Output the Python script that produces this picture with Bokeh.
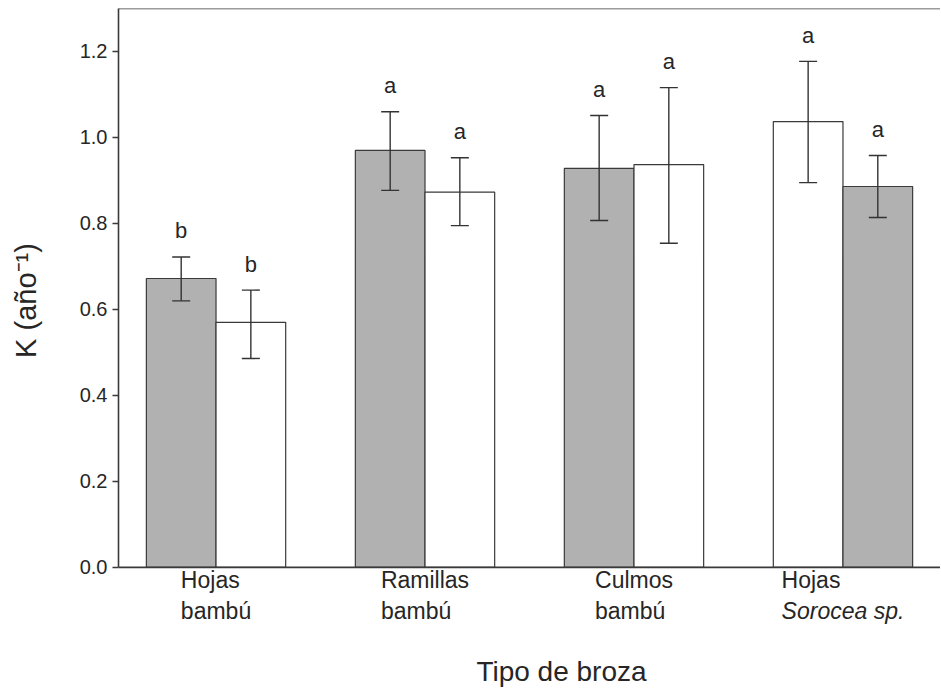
from bokeh.plotting import figure
from bokeh.layouts import row
from bokeh.models import (FactorRange, Range1d, ColumnDataSource, Whisker, TeeHead,
                          Label, NumeralTickFormatter, FixedTicker, Span)
from bokeh.core.properties import value
from bokeh.embed import file_html
from bokeh.resources import INLINE

# ---------------- data ----------------
categories = ["Hojas bambú", "Ramillas bambú", "Culmos bambú", "Hojas Sorocea sp."]
label_line1 = ["Hojas", "Ramillas", "Culmos", "Hojas"]
label_line2 = ["bambú", "bambú", "bambú", "Sorocea sp."]
line2_italic = [False, False, False, True]
bars = ["1", "2"]

k_first = [0.672, 0.970, 0.928, 1.037]
lo_first = [0.620, 0.877, 0.807, 0.895]
hi_first = [0.722, 1.060, 1.051, 1.177]
letter_first = ["b", "a", "a", "a"]
shaded_first = [True, True, True, False]

k_second = [0.570, 0.873, 0.937, 0.886]
lo_second = [0.486, 0.795, 0.754, 0.814]
hi_second = [0.645, 0.953, 1.116, 0.958]
letter_second = ["b", "a", "a", "a"]
shaded_second = [False, False, False, True]

y_ticks = [0.0, 0.2, 0.4, 0.6, 0.8, 1.0, 1.2]
Y_MAX = 1.3
Y_LABEL = "K (año⁻¹)"
X_LABEL = "Tipo de broza"

GRAY = "#b1b1b1"
WHITE = "#ffffff"
FONT = "Liberation Sans"
TXT = "#262626"
LINE = "#3a3a3a"
GP = 1.0  # group padding (in bar widths)
H = 689
LEFT_W = 45

# ---------------- source ----------------
xs, tops, lows, highs, colors, letters = [], [], [], [], [], []
for i, c in enumerate(categories):
    for b, k, lo, hi, let, sh in ((bars[0], k_first[i], lo_first[i], hi_first[i], letter_first[i], shaded_first[i]),
                                  (bars[1], k_second[i], lo_second[i], hi_second[i], letter_second[i], shaded_second[i])):
        xs.append((c, b))
        tops.append(k)
        lows.append(lo)
        highs.append(hi)
        colors.append(GRAY if sh else WHITE)
        letters.append(let)

src = ColumnDataSource(dict(x=xs, top=tops, lower=lows, upper=highs, color=colors, letter=letters))

xr = FactorRange(*xs, factor_padding=0, group_padding=GP,
                 range_padding=0.4, range_padding_units="absolute")

# main plot: frame runs below y = 0 so that the category labels fit inside it
p = figure(x_range=xr, y_range=Range1d(-0.284, Y_MAX),
           width=940 - LEFT_W, height=H, output_backend="svg", toolbar_location=None,
           min_border_left=118 - LEFT_W, min_border_right=0, min_border_top=8, min_border_bottom=0)

p.xaxis.visible = False
p.xgrid.visible = False
p.ygrid.visible = False
p.outline_line_color = None
p.background_fill_color = "white"
p.border_fill_color = "white"

p.add_layout(Span(location=Y_MAX, dimension="width", line_color=LINE, line_width=1.6))
p.add_layout(Span(location=0, dimension="width", line_color=LINE, line_width=1.6))

p.vbar(x="x", top="top", bottom=0, width=1.0, fill_color="color",
       line_color=LINE, line_width=1.2, source=src)

head = dict(size=18, line_color="#333333", line_width=1.4)
p.add_layout(Whisker(base="x", upper="upper", lower="lower", source=src, level="overlay",
                     line_color="#333333", line_width=1.4,
                     upper_head=TeeHead(**head), lower_head=TeeHead(**head)))

p.text(x="x", y="upper", text="letter", source=src, text_align="center",
       text_baseline="alphabetic", y_offset=-26, text_font=value(FONT),
       text_font_size="22px", text_color=TXT)

yax = p.yaxis[0]
yax.bounds = (0, Y_MAX)
yax.ticker = FixedTicker(ticks=y_ticks)
yax.formatter = NumeralTickFormatter(format="0.0")
yax.minor_tick_line_color = None
yax.major_tick_out = 6
yax.major_tick_in = 0
yax.major_label_standoff = 5
yax.major_label_text_font = FONT
yax.major_label_text_font_size = "20px"
yax.major_label_text_color = TXT
yax.axis_line_color = LINE
yax.axis_line_width = 1.6
yax.major_tick_line_color = LINE
yax.major_tick_line_width = 1.4

# category labels (two lines, left-aligned block centred on the group)
W = {"H": 722, "o": 556, "j": 222, "a": 556, "s": 500, "b": 556, "m": 833, "ú": 556,
     "R": 722, "i": 222, "l": 222, "C": 722, "u": 556, "S": 667, "r": 333, "c": 500,
     "e": 556, "p": 556, ".": 278, " ": 278}
CAT_SIZE = 23


def text_w(s):
    return sum(W.get(ch, 556) for ch in s) / 1000.0 * CAT_SIZE


n_sub = len(bars)
for gi, (l1, l2, it) in enumerate(zip(label_line1, label_line2, line2_italic)):
    block = max(text_w(l1), text_w(l2))
    xc = gi * (n_sub + GP) + n_sub / 2.0  # synthetic centre of the group
    for txt, yy, style in ((l1, 110, "normal"), (l2, 79, "italic" if it else "normal")):
        p.add_layout(Label(x=xc, y=yy, x_units="data", y_units="screen",
                           x_offset=-block / 2, text=txt, text_align="left",
                           text_baseline="alphabetic", text_font=FONT,
                           text_font_size=f"{CAT_SIZE}px", text_font_style=style,
                           text_color=TXT))

p.add_layout(Label(x=443, y=18, x_units="screen", y_units="screen",
                   text=X_LABEL, text_align="center", text_baseline="alphabetic",
                   text_font=FONT, text_font_size="28px", text_color=TXT))

# narrow strip on the left holding the rotated y-axis title
q = figure(x_range=Range1d(0, 1), y_range=Range1d(0, 1), width=LEFT_W, height=H,
           output_backend="svg", toolbar_location=None,
           min_border_left=0, min_border_right=0, min_border_top=0, min_border_bottom=0)
q.axis.visible = False
q.grid.visible = False
q.outline_line_color = None
q.background_fill_color = "white"
q.border_fill_color = "white"
q.add_layout(Label(x=25, y=H - 300, x_units="screen", y_units="screen", text=Y_LABEL,
                   angle=90, angle_units="deg", text_align="center", text_baseline="middle",
                   text_font=FONT, text_font_size="29px", text_color=TXT))

layout = row(q, p, spacing=0)
open("out.html", "w").write(file_html(layout, INLINE))
